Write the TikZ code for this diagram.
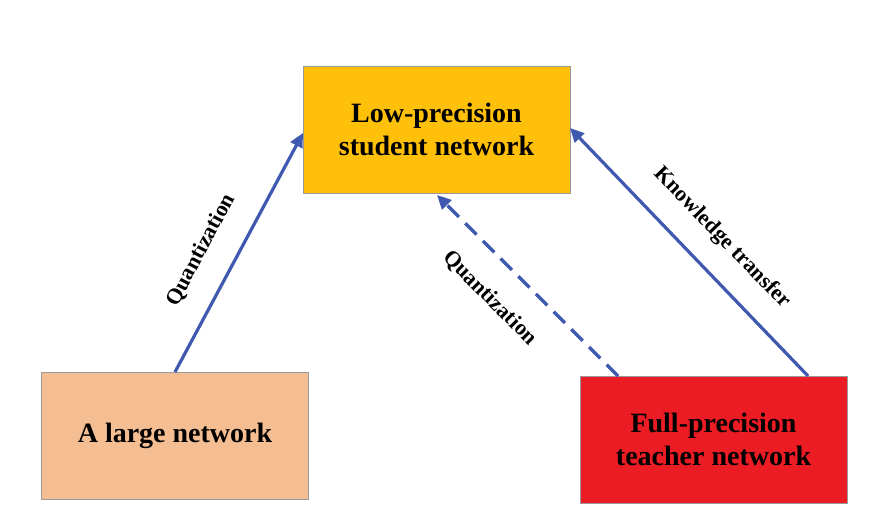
\documentclass[tikz,border=0pt]{standalone}
\usepackage{fontspec}
\setmainfont{Liberation Serif}
\usetikzlibrary{arrows.meta}
\definecolor{arr}{HTML}{3F58B0}
\begin{document}
\begin{tikzpicture}[x=1pt,y=-1pt,
  box/.style={draw=black!40,line width=0.6pt,minimum width=267pt,minimum height=127pt,align=center,font=\bfseries\fontsize{28}{33}\selectfont},
  conn/.style={draw=arr,line width=3.2pt,-{Triangle[length=14pt,width=13pt]}},
  lab/.style={font=\bfseries\fontsize{22}{26}\selectfont}]
\useasboundingbox[fill=white] (0,0) rectangle (873,518);
\node[box,fill={rgb,255:red,255;green,192;blue,10}] (s) at (436.5,129.5) {Low-precision\\student network};
\node[box,fill={rgb,255:red,244;green,190;blue,146}] (l) at (175,436) {A large network};
\node[box,fill={rgb,255:red,236;green,28;blue,36}] (t) at (713.5,439.5) {Full-precision\\teacher network};
\coordinate (la) at (175,372);
\coordinate (lb) at (303,133);
\coordinate (da) at (618,376);
\coordinate (db) at (437,195);
\coordinate (ra) at (808,376);
\coordinate (rb) at (570,128);
\draw[conn] (la) -- (lb);
\draw[conn,dash pattern=on 16pt off 9pt] (da) -- (db);
\draw[conn] (ra) -- (rb);
\node[lab,rotate=62] at (201,250) {Quantization};
\node[lab,rotate=-45] at (490,298) {Quantization};
\node[lab,rotate=-46] at (722,238) {Knowledge transfer};
\end{tikzpicture}
\end{document}
